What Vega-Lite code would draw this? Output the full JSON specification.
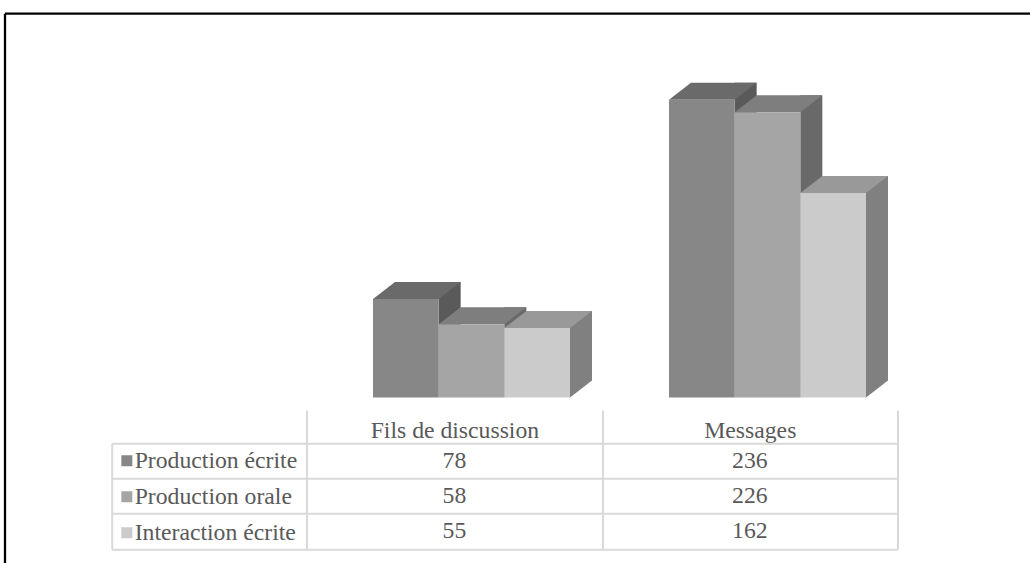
{
  "$schema": "https://vega.github.io/schema/vega-lite/v6.json",
  "width": 1025.5,
  "height": 549.8,
  "autosize": {"type": "none"},
  "padding": {"left": 4.5, "top": 13.2, "right": 0, "bottom": 0},
  "background": "white",
  "config": {"view": {"stroke": null}},
  "data": {
    "values": [
      {"cat": "Fils de discussion", "series": "Production écrite", "value": 78},
      {"cat": "Fils de discussion", "series": "Production orale", "value": 58},
      {"cat": "Fils de discussion", "series": "Interaction écrite", "value": 55},
      {"cat": "Messages", "series": "Production écrite", "value": 236},
      {"cat": "Messages", "series": "Production orale", "value": 226},
      {"cat": "Messages", "series": "Interaction écrite", "value": 162}
    ]
  },
  "resolve": {
    "scale": {"x": "independent", "y": "independent"},
    "axis": {"x": "independent", "y": "independent"}
  },
  "layer": [
    {
      "mark": {"type": "text", "text": ""},
      "encoding": {
        "x": {"datum": 0, "type": "quantitative", "scale": {"domain": [0, 1]},
          "axis": {"orient": "top", "domain": true, "domainColor": "#000000", "domainWidth": 2.3, "ticks": false, "labels": false, "grid": false, "title": null}},
        "y": {"datum": 0, "type": "quantitative", "scale": {"domain": [0, 1]},
          "axis": {"orient": "left", "domain": true, "domainColor": "#000000", "domainWidth": 2.3, "ticks": false, "labels": false, "grid": false, "title": null}}
      }
    },
    {
      "resolve": {"scale": {"xOffset": "independent", "fill": "independent"}},
      "layer": [
        {
          "mark": {"type": "bar", "width": 22, "yOffset": -17, "y2Offset": -17, "strokeWidth": 0},
          "encoding": {
            "x": {"field": "cat", "type": "nominal", "scale": {"domain": ["Fils de discussion", "Messages"], "range": [368.5, 861.5], "paddingInner": 0.33446, "paddingOuter": 0}, "axis": null},
            "xOffset": {"field": "series", "type": "nominal", "scale": {"type": "band", "domain": ["Production écrite", "Production orale", "Interaction écrite"], "range": [43.83, 240.83], "paddingInner": 0, "paddingOuter": 0}},
            "y": {"field": "value", "type": "quantitative", "scale": {"domain": [0, 300], "range": [384.3, 5.7]}, "axis": null},
            "fill": {"field": "series", "type": "nominal", "scale": {"domain": ["Production écrite", "Production orale", "Interaction écrite"], "range": ["#5a5a5a", "#696969", "#808080"]}, "legend": null}
          }
        },
        {
          "mark": {"type": "point", "shape": "M32.83,-18L54.83,-18L54.83,-17L32.83,0Z", "size": 4, "filled": true, "opacity": 1, "strokeWidth": 0},
          "encoding": {
            "x": {"field": "cat", "type": "nominal", "scale": {"domain": ["Fils de discussion", "Messages"], "range": [368.5, 861.5], "paddingInner": 0.33446, "paddingOuter": 0}, "axis": null},
            "xOffset": {"field": "series", "type": "nominal", "scale": {"type": "band", "domain": ["Production écrite", "Production orale", "Interaction écrite"], "range": [0, 197], "paddingInner": 0, "paddingOuter": 0}},
            "y": {"datum": 0, "type": "quantitative", "scale": {"domain": [0, 300], "range": [384.3, 5.7]}, "axis": null},
            "fill": {"field": "series", "type": "nominal", "scale": {"domain": ["Production écrite", "Production orale", "Interaction écrite"], "range": ["#5a5a5a", "#696969", "#808080"]}, "legend": null}
          }
        },
        {
          "mark": {"type": "point", "shape": "M-32.83,0L32.83,0L54.83,-17L-10.83,-17Z", "size": 4, "filled": true, "opacity": 1, "strokeWidth": 0},
          "encoding": {
            "x": {"field": "cat", "type": "nominal", "scale": {"domain": ["Fils de discussion", "Messages"], "range": [368.5, 861.5], "paddingInner": 0.33446, "paddingOuter": 0}, "axis": null},
            "xOffset": {"field": "series", "type": "nominal", "scale": {"type": "band", "domain": ["Production écrite", "Production orale", "Interaction écrite"], "range": [0, 197], "paddingInner": 0, "paddingOuter": 0}},
            "y": {"field": "value", "type": "quantitative", "scale": {"domain": [0, 300], "range": [384.3, 5.7]}, "axis": null},
            "fill": {"field": "series", "type": "nominal", "scale": {"domain": ["Production écrite", "Production orale", "Interaction écrite"], "range": ["#6a6a6a", "#7e7e7e", "#999999"]}, "legend": null}
          }
        },
        {
          "mark": {"type": "bar", "strokeWidth": 0},
          "encoding": {
            "x": {"field": "cat", "type": "nominal", "scale": {"domain": ["Fils de discussion", "Messages"], "range": [368.5, 861.5], "paddingInner": 0.33446, "paddingOuter": 0}, "axis": null},
            "xOffset": {"field": "series", "type": "nominal", "scale": {"type": "band", "domain": ["Production écrite", "Production orale", "Interaction écrite"], "range": [0, 197], "paddingInner": 0, "paddingOuter": 0}},
            "y": {"field": "value", "type": "quantitative", "scale": {"domain": [0, 300], "range": [384.3, 5.7]}, "axis": null},
            "color": {"field": "series", "type": "nominal", "scale": {"domain": ["Production écrite", "Production orale", "Interaction écrite"], "range": ["#878787", "#a5a5a5", "#cbcbcb"]},
              "legend": {"orient": "none", "legendX": 110.5, "legendY": 429.8, "title": null, "symbolType": "square", "symbolSize": 121, "symbolStrokeWidth": 0, "symbolOpacity": 1, "labelFont": "Liberation Serif", "labelFontSize": 23.7, "labelColor": "#595959", "labelOffset": -4, "clipHeight": 35.33, "rowPadding": 0, "padding": 0, "offset": 0, "labelLimit": 400}}
          }
        }
      ]
    },
    {
      "mark": {"type": "text", "font": "Liberation Serif", "fontSize": 23.7, "fill": "#595959", "baseline": "middle", "align": "center"},
      "encoding": {
        "x": {"field": "cat", "type": "nominal", "scale": {"domain": ["Fils de discussion", "Messages"], "range": [302.2, 893], "paddingInner": 0, "paddingOuter": 0},
          "axis": {"orient": "bottom", "offset": -153, "domain": false, "ticks": true, "tickBand": "extent", "tickSize": 139, "tickColor": "#d9d9d9", "tickWidth": 2, "labels": true, "labelFont": "Liberation Serif", "labelFontSize": 23.7, "labelColor": "#595959", "labelBaseline": "alphabetic", "labelPadding": -112, "labelAngle": 0, "grid": false, "title": null}},
        "y": {"field": "series", "type": "nominal", "scale": {"domain": ["Production écrite", "Production orale", "Interaction écrite"], "range": [429.8, 535.8], "paddingInner": 0, "paddingOuter": 0},
          "axis": {"orient": "right", "offset": -918.3, "domain": true, "domainColor": "#d9d9d9", "domainWidth": 2, "ticks": true, "tickBand": "extent", "tickSize": 785.8, "tickColor": "#d9d9d9", "tickWidth": 2, "labels": false, "grid": false, "title": null}},
        "text": {"field": "value", "type": "quantitative"}
      }
    }
  ]
}
